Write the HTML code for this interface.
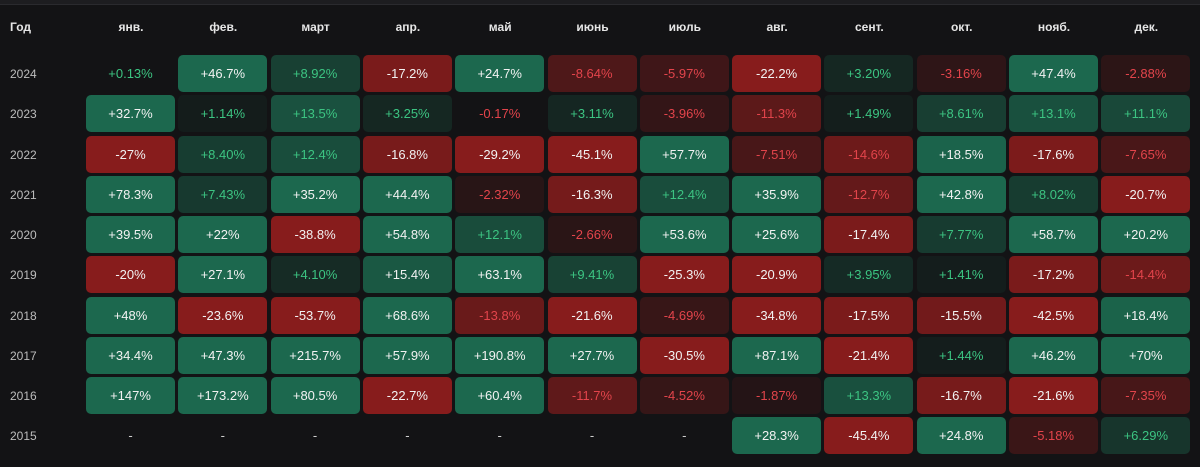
<!DOCTYPE html>
<html><head><meta charset="utf-8">
<style>
html,body{margin:0;padding:0;background:#131315;width:1200px;height:467px;overflow:hidden;font-family:"Liberation Sans","DejaVu Sans",sans-serif}
#topline{position:absolute;left:0;top:0;width:1200px;height:4px;background:#1d1d20;border-bottom:1px solid #2a2a2e}
.hdr{position:absolute;top:20px;font-size:12px;color:#e6e6e6;font-weight:bold;text-align:center;width:90px}
.yr{position:absolute;left:10px;font-size:12px;color:#bdbdbd;width:60px;line-height:39px}
.cell{position:absolute;width:89px;height:37px;border-radius:5px;font-size:13px;text-align:center;line-height:38px}
</style></head><body>
<div id="topline"></div>
<div id="root"></div>
<script>
const months=["янв.","фев.","март","апр.","май","июнь","июль","авг.","сент.","окт.","нояб.","дек."];
const years=["2024","2023","2022","2021","2020","2019","2018","2017","2016","2015"];
const v2024=[0.13,46.7,8.92,-17.2,24.7,-8.64,-5.97,-22.2,3.20,-3.16,47.4,-2.88];
const v2023=[32.7,1.14,13.5,3.25,-0.17,3.11,-3.96,-11.3,1.49,8.61,13.1,11.1];
const v2022=[-27,8.40,12.4,-16.8,-29.2,-45.1,57.7,-7.51,-14.6,18.5,-17.6,-7.65];
const v2021=[78.3,7.43,35.2,44.4,-2.32,-16.3,12.4,35.9,-12.7,42.8,8.02,-20.7];
const v2020=[39.5,22,-38.8,54.8,12.1,-2.66,53.6,25.6,-17.4,7.77,58.7,20.2];
const v2019=[-20,27.1,4.10,15.4,63.1,9.41,-25.3,-20.9,3.95,1.41,-17.2,-14.4];
const v2018=[48,-23.6,-53.7,68.6,-13.8,-21.6,-4.69,-34.8,-17.5,-15.5,-42.5,18.4];
const v2017=[34.4,47.3,215.7,57.9,190.8,27.7,-30.5,87.1,-21.4,1.44,46.2,70];
const v2016=[147,173.2,80.5,-22.7,60.4,-11.7,-4.52,-1.87,13.3,-16.7,-21.6,-7.35];
const v2015=[null,null,null,null,null,null,null,28.3,-45.4,24.8,-5.18,6.29];
const rows=[v2024,v2023,v2022,v2021,v2020,v2019,v2018,v2017,v2016,v2015];
const root=document.getElementById('root');
const x0=86,px=92.3,y0=55,py=40.25;
const colX=i=>x0+i*px, rowY=j=>y0+j*py;
function fmt(v){
  let s=Math.abs(v)>=10?(Math.round(v*10)/10).toString():(Math.round(v*100)/100).toFixed(2);
  return (v>0?"+":"")+s+"%";
}
function mix(a,b,t){return a.map((c,i)=>Math.round(c+(b[i]-c)*t));}
const base=[19,19,21],G=[28,104,78],R=[135,28,28];
let h=document.createElement('div');h.className='hdr';h.style.left='10px';h.style.textAlign='left';h.textContent='Год';


root.appendChild(h);
months.forEach((m,i)=>{const d=document.createElement('div');d.className='hdr';d.style.left=colX(i)+'px';d.textContent=m;


root.appendChild(d);});
years.forEach((y,j)=>{
  const d=document.createElement('div');d.className='yr';d.style.top=rowY(j)+'px';d.textContent=y;
  
  
  root.appendChild(d);
  rows[j].forEach((v,i)=>{
    const c=document.createElement('div');c.className='cell';
    c.style.left=colX(i)+'px';c.style.top=rowY(j)+'px';
    
    
    if(v===null){c.textContent='-';c.style.color='#cfcfcf';}
    else{
      const a=Math.abs(v);const t=Math.min(a/20,1);
      const col=mix(base,v>=0?G:R,Math.pow(t,0.8));
      if(a>0.5)c.style.background='rgb('+col.join(',')+')';
      c.textContent=fmt(v);
      c.style.color=a>=15?'#f2f2f2':(v>=0?'#3cc482':'#e2444b');
    }
    root.appendChild(c);
  });
});
</script>
</body></html>
